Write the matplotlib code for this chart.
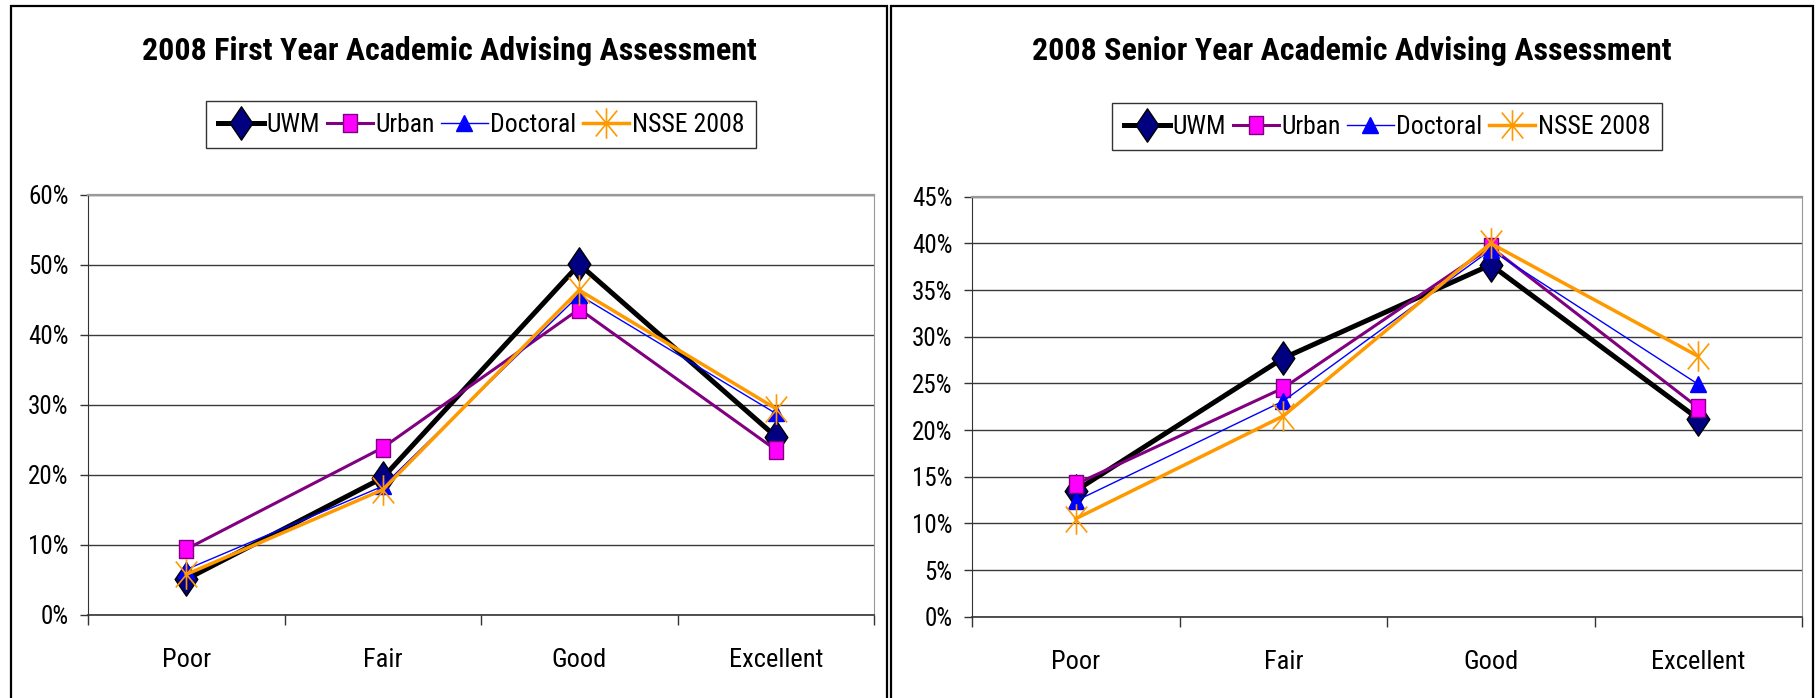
import matplotlib
matplotlib.use("Agg")
import matplotlib.pyplot as plt
from matplotlib.patches import Rectangle
from matplotlib.path import Path
from matplotlib.ticker import FixedLocator, FuncFormatter

plt.rcParams['font.family'] = ['Liberation Sans Narrow', 'Roboto Condensed', 'DejaVu Sans']
plt.rcParams['font.stretch'] = 'condensed'

# data (percent of respondents)
categories = ["Poor", "Fair", "Good", "Excellent"]
series_names = ["UWM", "Urban", "Doctoral", "NSSE 2008"]

first_uwm = [5.1, 19.6, 50.1, 25.5]
first_urban = [9.4, 23.9, 43.7, 23.6]
first_doctoral = [6.5, 18.4, 45.7, 28.8]
first_nsse = [5.8, 17.9, 46.4, 29.5]

senior_uwm = [13.5, 27.7, 37.7, 21.2]
senior_urban = [14.2, 24.5, 39.6, 22.4]
senior_doctoral = [12.4, 23.1, 39.3, 24.9]
senior_nsse = [10.5, 21.5, 40.0, 27.9]

# excel-ish markers
diamond = Path([(0, 1), (0.68, 0), (0, -1), (-0.68, 0), (0, 1)], closed=True)
square = Path([(-0.75, -1), (0.75, -1), (0.75, 1), (-0.75, 1), (-0.75, -1)], closed=True)
asterisk = Path([(0, -1), (0, 1), (-0.7, -0.85), (0.7, 0.85), (-0.7, 0.85), (0.7, -0.85)],
                [Path.MOVETO, Path.LINETO, Path.MOVETO, Path.LINETO, Path.MOVETO, Path.LINETO])

STYLES = [
    dict(color='black', lw=3.6, marker=diamond, ms=24, mfc='#000080', mec='black', mew=1),
    dict(color='#800080', lw=2.2, marker=square, ms=13, mfc='#FF00FF', mec='#800080', mew=1),
    dict(color='#0000FF', lw=1.0, marker='^', ms=11, mfc='#0000FF', mec='#0000FF', mew=1),
    dict(color='#FF9900', lw=2.5, marker=asterisk, ms=22, mfc='none', mec='#FF9900', mew=1.2),
]


def draw_panel(fig, rect, frame, title, data, ymax, ystep):
    # panel border
    fig.patches.append(Rectangle((frame[0], frame[1]), frame[2], frame[3],
                                 transform=fig.transFigure, fill=False,
                                 edgecolor='black', lw=1.6, zorder=0))
    fig.text(frame[0] + frame[2] / 2, 1 - 51 / 698, title, ha='center', va='center',
             fontsize=23, fontweight='bold')

    ax = fig.add_axes(rect)
    x = list(range(len(categories)))
    handles = []
    for vals, name, st in zip(data, series_names, STYLES):
        h, = ax.plot(x, vals, label=name, solid_joinstyle='miter', clip_on=False, **st)
        handles.append(h)

    ax.set_xlim(-0.5, len(categories) - 0.5)
    ax.set_ylim(0, ymax)
    ax.yaxis.set_major_locator(FixedLocator([i * ystep for i in range(int(ymax / ystep) + 1)]))
    ax.yaxis.set_major_formatter(FuncFormatter(lambda v, p: f"{v:.0f}%"))
    ax.yaxis.grid(True, color='#3a3a3a', lw=1.0)
    ax.set_axisbelow(True)

    # category ticks at boundaries, labels at centers
    ax.xaxis.set_major_locator(FixedLocator([i - 0.5 for i in range(len(categories) + 1)]))
    ax.xaxis.set_major_formatter(FuncFormatter(lambda v, p: ""))
    ax.xaxis.set_minor_locator(FixedLocator(x))
    ax.set_xticklabels(categories, minor=True)
    ax.tick_params(axis='x', which='major', length=7, width=1, color='#333333', direction='out')
    ax.tick_params(axis='x', which='minor', length=0, pad=24, labelsize=19)
    ax.tick_params(axis='y', length=6, width=1, color='#333333', pad=8, labelsize=18)

    ax.spines['left'].set_color('#333333')
    ax.spines['bottom'].set_color('#333333')
    ax.spines['bottom'].set_linewidth(1.2)
    ax.spines['top'].set_color('#999999')
    ax.spines['top'].set_linewidth(1.6)
    ax.spines['right'].set_color('#999999')

    leg = ax.legend(handles=handles, loc='center', bbox_to_anchor=(0.5, 1.167),
                    ncol=4, fontsize=18.5, frameon=True, fancybox=False,
                    edgecolor='black', handlelength=1.8, handletextpad=0.1,
                    columnspacing=0.25, borderpad=0.45, borderaxespad=0)
    leg.get_frame().set_linewidth(1.0)
    return ax


fig = plt.figure(figsize=(18.2, 6.98), dpi=100)
fig.patch.set_facecolor('white')

W, H = 1820.0, 698.0
draw_panel(fig,
           [88 / W, 1 - 615 / H, 786 / W, 420 / H],
           [11 / W, -0.05, 876 / W, 1 - 6 / H + 0.05],
           "2008 First Year Academic Advising Assessment",
           [first_uwm, first_urban, first_doctoral, first_nsse], 60, 10)
draw_panel(fig,
           [972 / W, 1 - 616.7 / H, 830 / W, 420 / H],
           [891 / W, -0.05, 922 / W, 1 - 6 / H + 0.05],
           "2008 Senior Year Academic Advising Assessment",
           [senior_uwm, senior_urban, senior_doctoral, senior_nsse], 45, 5)

fig.savefig("out.png", dpi=100, facecolor='white')
